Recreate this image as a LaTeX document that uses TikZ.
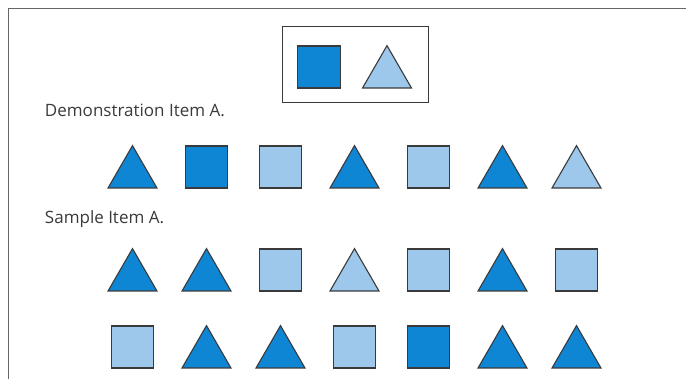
\documentclass[tikz,border=0pt]{standalone}
\usepackage{fontspec}
\setmainfont{Open Sans}
\usetikzlibrary{shapes.geometric}
\definecolor{darkblue}{HTML}{0F86D3}
\definecolor{lightblue}{HTML}{9DC7EB}
\definecolor{edge}{HTML}{3A3A3A}
\tikzset{
    every node/.style={inner sep=0pt, outer sep=0pt},
    sq/.style={draw=edge, line width=1.1pt, rectangle, minimum width=42.5pt, minimum height=42pt, anchor=south},
    tri/.style={draw=edge, line width=1.1pt, regular polygon, regular polygon sides=3, minimum size=56.5pt, anchor=south},
    dark/.style={fill=darkblue},
    light/.style={fill=lightblue},
    label/.style={anchor=base west, text=edge, font=\fontsize{17}{20}\selectfont},
    frame/.style={draw=gray!80!black, line width=1.5pt}
}

\begin{document}
\begin{tikzpicture}[x=1pt,y=-1pt]
\useasboundingbox (0,0) rectangle (686,379);
\draw[frame] (686,8.5) -- (8.5,8.5) -- (8.5,379);

% key
\node[draw=edge, line width=1pt, minimum width=146pt, minimum height=76pt] (key) at (355,65) {};
\node[sq,dark] at (319,88) (k1) {};
\node[tri,light] at (387,88) (k2) {};

\node[label] at (45,117) (demo) {Demonstration Item A.};

% demonstration row
\node[tri,dark] at (132.5,188) (a1) {};
\node[sq,dark] at (206.5,188) (a2) {};
\node[sq,light] at (280.5,188) (a3) {};
\node[tri,dark] at (354.5,188) (a4) {};
\node[sq,light] at (428.5,188) (a5) {};
\node[tri,dark] at (502.5,188) (a6) {};
\node[tri,light] at (576.5,188) (a7) {};

\node[label] at (45,224) (sample) {Sample Item A.};

% sample rows
\node[tri,dark] at (132.5,291) (b1) {};
\node[tri,dark] at (206.5,291) (b2) {};
\node[sq,light] at (280.5,291) (b3) {};
\node[tri,light] at (354.5,291) (b4) {};
\node[sq,light] at (428.5,291) (b5) {};
\node[tri,dark] at (502.5,291) (b6) {};
\node[sq,light] at (576.5,291) (b7) {};

\node[sq,light] at (132.5,368) (c1) {};
\node[tri,dark] at (206.5,368) (c2) {};
\node[tri,dark] at (280.5,368) (c3) {};
\node[sq,light] at (354.5,368) (c4) {};
\node[sq,dark] at (428.5,368) (c5) {};
\node[tri,dark] at (502.5,368) (c6) {};
\node[tri,dark] at (576.5,368) (c7) {};
\end{tikzpicture}
\end{document}
